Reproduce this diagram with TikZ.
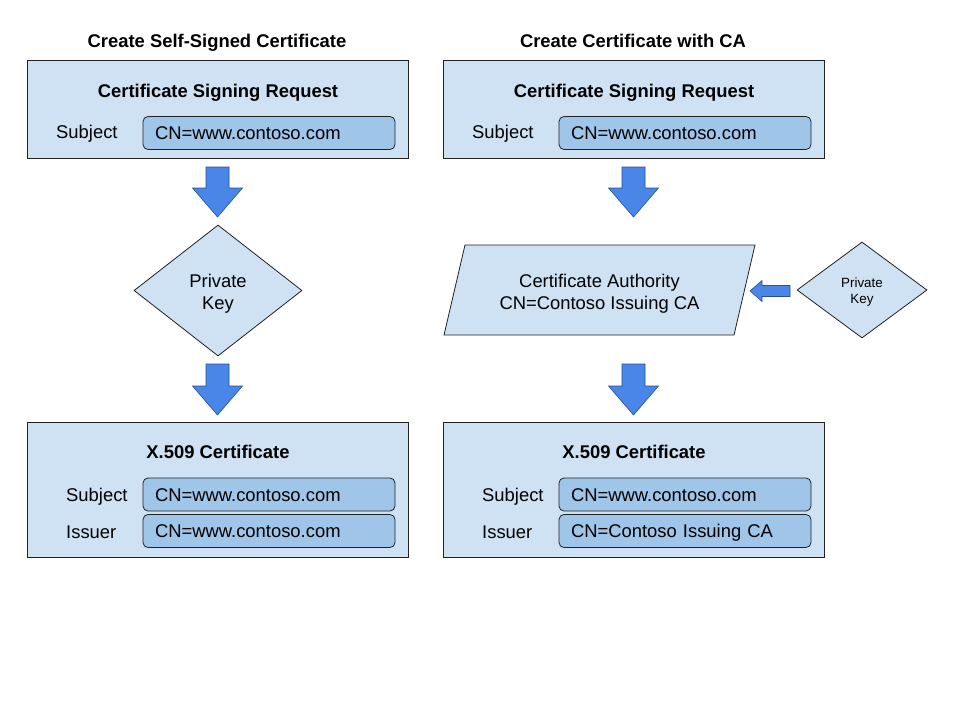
\documentclass[tikz,border=0pt]{standalone}
\usepackage{fontspec}
\setmainfont{Liberation Sans}
\usetikzlibrary{shapes.geometric}
\definecolor{boxfill}{HTML}{CFE2F3}
\definecolor{fieldfill}{HTML}{9FC5E8}
\definecolor{arrowfill}{HTML}{4A86E8}
\definecolor{arrowline}{HTML}{2A4F8F}
\definecolor{edge}{HTML}{222222}
\newcommand{\dnarrow}[4]{% name, x, ytop, ytip
  \coordinate (#1) at (#2,#4);
  \draw[blockarrow] (#2-11.5,#3) -- (#2+11.5,#3) -- (#2+11.5,#4-29) -- (#2+25,#4-29)
    -- (#1) -- (#2-25,#4-29) -- (#2-11.5,#4-29) -- cycle;}
\begin{document}
\begin{tikzpicture}[x=1pt,y=-1pt,
  every node/.style={font=\fontsize{18.4}{22}\selectfont, inner sep=0pt, text=black},
  heading/.style={font=\fontsize{18.4}{22}\selectfont\bfseries, anchor=base},
  panel/.style={draw=edge, fill=boxfill, line width=0.9pt, minimum width=381pt},
  field/.style={draw=edge, fill=fieldfill, rounded corners=5pt, line width=0.8pt,
    minimum width=252pt, minimum height=33pt, text width=228pt, align=left,
    text height=13.2pt, text depth=0pt},
  label/.style={anchor=base west},
  decision/.style={diamond, draw=edge, fill=boxfill, line width=0.8pt, align=center},
  blockarrow/.style={fill=arrowfill, draw=arrowline, line width=0.6pt, line join=miter}]
\useasboundingbox[fill=white] (0,0) rectangle (960,720);

% column titles
\node[heading] (t1) at (217,47) {Create Self-Signed Certificate};
\node[heading] (t2) at (633,47) {Create Certificate with CA};

% ---------- left column ----------
\node[panel, minimum height=98pt] (csrL) at (217.5,109) {};
\node[heading] (csrLt) at (218,97) {Certificate Signing Request};
\node[label] (csrLs) at (56,138) {Subject};
\node[field] (csrLf) at (269,133) {CN=www.contoso.com};

\dnarrow{a1}{217.5}{167}{217}

\node[decision, minimum width=168pt, minimum height=131pt,
  text height=40pt, text depth=3pt] (pkL) at (218,290.5) {Private\\Key};

\dnarrow{a2}{217.5}{364}{415}

\node[panel, minimum height=135pt] (x509L) at (217.5,489.5) {};
\node[heading] (x509Lt) at (218,458) {X.509 Certificate};
\node[label] (x509Ls) at (66,501.5) {Subject};
\node[field] (x509Lf1) at (269,494.5) {CN=www.contoso.com};
\node[label] (x509Li) at (66,538.3) {Issuer};
\node[field] (x509Lf2) at (269,531) {CN=www.contoso.com};

% ---------- right column ----------
\node[panel, minimum height=98pt] (csrR) at (633.5,109) {};
\node[heading] (csrRt) at (634,97) {Certificate Signing Request};
\node[label] (csrRs) at (472,138) {Subject};
\node[field] (csrRf) at (685,133) {CN=www.contoso.com};

\dnarrow{a3}{633.5}{167}{217}

\draw[draw=edge, fill=boxfill, line width=0.8pt] (465,245) -- (755,245) -- (734,335) -- (444,335) -- cycle;
\node[align=center] (ca) at (599.5,294) {Certificate Authority\\CN=Contoso Issuing CA};

\node[decision, minimum width=130pt, minimum height=96pt,
  font=\fontsize{13.4}{16}\selectfont, text height=29pt, text depth=3pt] (pkR) at (862,290) {Private\\Key};

\coordinate (a5) at (750,291);
\draw[blockarrow] (790,285.5) -- (762,285.5) -- (762,280.5) -- (a5) -- (762,301.5)
  -- (762,296.5) -- (790,296.5) -- cycle;

\dnarrow{a4}{633.5}{364}{415}

\node[panel, minimum height=135pt] (x509R) at (633.5,489.5) {};
\node[heading] (x509Rt) at (634,458) {X.509 Certificate};
\node[label] (x509Rs) at (482,501.5) {Subject};
\node[field] (x509Rf1) at (685,494.5) {CN=www.contoso.com};
\node[label] (x509Ri) at (482,538.3) {Issuer};
\node[field] (x509Rf2) at (685,531) {CN=Contoso Issuing CA};
\end{tikzpicture}
\end{document}
